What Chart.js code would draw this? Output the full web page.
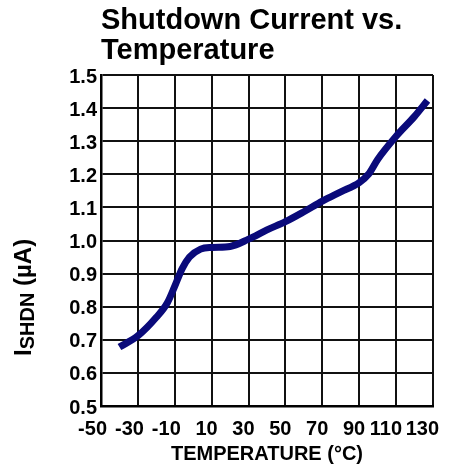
<!DOCTYPE html>
<html>
<head>
<meta charset="utf-8">
<script src="https://cdn.jsdelivr.net/npm/chart.js@4.4.1/dist/chart.umd.min.js"></script>
<style>
  body { margin: 0; background: #fff; }
  #chart { display: block; }
</style>
</head>
<body>
<canvas id="chart" width="452" height="472"></canvas>
<script>
// temperature (°C) and shutdown current (µA)
var temps = [-40, -30, -20, -14, -10, -6, -2, 4, 10, 20, 30, 40, 50, 60, 70, 80, 90, 95, 100, 110, 120, 127];
var ishdn = [0.678, 0.712, 0.768, 0.812, 0.862, 0.915, 0.95, 0.974, 0.979, 0.982, 1.004, 1.032, 1.057, 1.087, 1.119, 1.147, 1.175, 1.2, 1.245, 1.315, 1.375, 1.423];
var titleLines = ["Shutdown Current vs.", "Temperature"];
var xTitle = "TEMPERATURE (°C)";

var fontFamily = "'Liberation Sans', Arial, sans-serif";

var points = temps.map(function (t, i) {
  return { x: t, y: ishdn[i] };
});

// y axis title has a subscript, so it is drawn by hand
var yTitlePlugin = {
  id: "yTitle",
  afterDraw: function (chart) {
    var ctx = chart.ctx;
    ctx.save();
    ctx.translate(31, 356);
    ctx.rotate(-Math.PI / 2);
    ctx.fillStyle = "#000";
    ctx.textBaseline = "alphabetic";
    ctx.textAlign = "left";
    ctx.font = "bold 24px " + fontFamily;
    ctx.fillText("I", 0, 0);
    var x = ctx.measureText("I").width;
    ctx.font = "bold 20px " + fontFamily;
    ctx.fillText("SHDN", x, 3);
    x += ctx.measureText("SHDN").width;
    ctx.font = "bold 24px " + fontFamily;
    ctx.fillText(" (µA)", x, 0);
    ctx.restore();
  },
};

var ctx = document.getElementById("chart").getContext("2d");
var myChart = new Chart(ctx, {
  type: "line",
  data: {
    datasets: [
      {
        data: points,
        borderColor: "#0a0a7a",
        borderWidth: 7,
        borderCapStyle: "butt",
        pointRadius: 0,
        cubicInterpolationMode: "monotone",
        fill: false,
      },
    ],
  },
  options: {
    responsive: false,
    animation: false,
    layout: {
      padding: { left: 0, right: 19, top: 0, bottom: 0 },
    },
    plugins: {
      legend: { display: false },
      tooltip: { enabled: false },
      title: {
        display: true,
        text: titleLines,
        align: "start",
        fullSize: false,
        color: "#000",
        font: { family: fontFamily, size: 29, weight: "bold", lineHeight: 30 / 29 },
        padding: { top: 6, bottom: 9 },
      },
    },
    scales: {
      x: {
        type: "linear",
        min: -50,
        max: 130,
        ticks: {
          stepSize: 20,
          color: "#000",
          font: { family: fontFamily, size: 20, weight: "bold" },
          padding: 11,
          align: "end",
          labelOffset: 6,
          maxRotation: 0,
        },
        grid: { color: "#111", lineWidth: 2, drawTicks: false },
        border: { color: "#000", width: 2.5 },
        title: {
          display: true,
          text: xTitle,
          color: "#000",
          font: { family: fontFamily, size: 20, weight: "bold" },
          padding: { top: 0, bottom: 6 },
        },
        afterFit: function (scale) {
          scale.height = 66;
        },
      },
      y: {
        min: 0.5,
        max: 1.5,
        ticks: {
          stepSize: 0.1,
          color: "#000",
          font: { family: fontFamily, size: 20, weight: "bold" },
          padding: 4,
          labelOffset: 2,
          callback: function (v) {
            return v.toFixed(1);
          },
        },
        grid: { color: "#111", lineWidth: 2, drawTicks: false },
        border: { color: "#000", width: 2.5 },
        afterFit: function (scale) {
          scale.width = 101;
        },
      },
    },
  },
  plugins: [yTitlePlugin],
});
</script>
</body>
</html>
